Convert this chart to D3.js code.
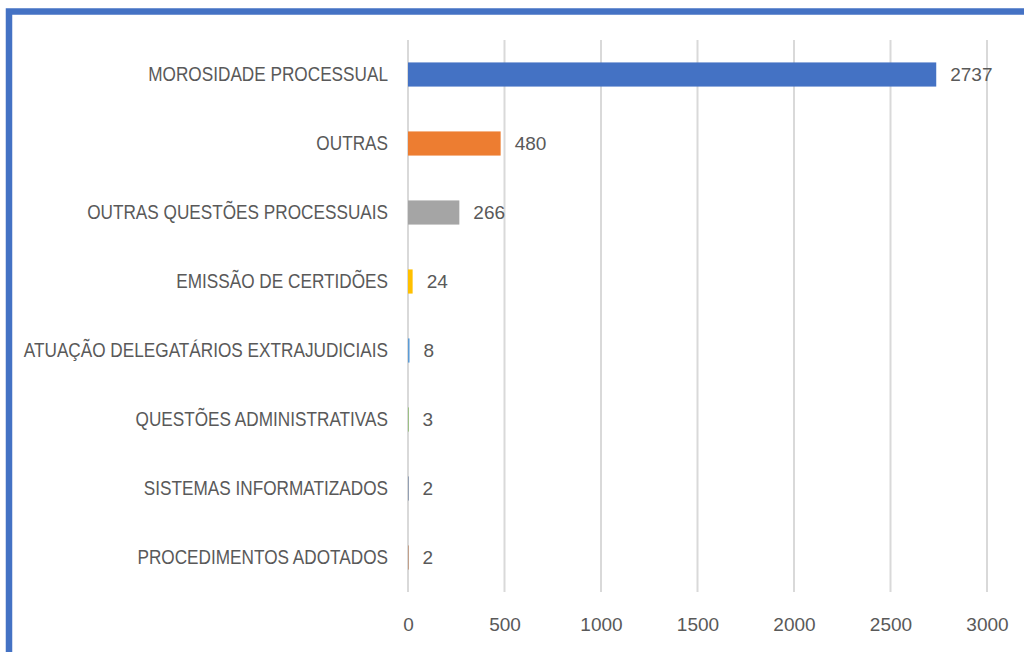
<!DOCTYPE html>
<html>
<head>
<meta charset="utf-8">
<script src="https://cdn.jsdelivr.net/npm/d3@7"></script>
<style>
    html, body { margin: 0; padding: 0; background: #ffffff; }
    svg { display: block; }
    text { font-family: 'Liberation Sans Narrow', 'Liberation Sans', sans-serif; fill: #595959; }
</style>
</head>
<body>
<svg></svg>
<script>
const CATEGORIES = [
    'MOROSIDADE PROCESSUAL',
    'OUTRAS',
    'OUTRAS QUESTÕES PROCESSUAIS',
    'EMISSÃO DE CERTIDÕES',
    'ATUAÇÃO DELEGATÁRIOS EXTRAJUDICIAIS',
    'QUESTÕES ADMINISTRATIVAS',
    'SISTEMAS INFORMATIZADOS',
    'PROCEDIMENTOS ADOTADOS'
];
const VALUES = [2737, 480, 266, 24, 8, 3, 2, 2];
const TICKS = [0, 500, 1000, 1500, 2000, 2500, 3000];

const COLORS = [
    '#4472c4',
    '#ed7d31',
    '#a5a5a5',
    '#ffc000',
    '#5b9bd5',
    '#70ad47',
    '#264478',
    '#9e480e'
];

const WIDTH = 1024;
const HEIGHT = 652;
const PLOT = { left: 408, right: 987, top: 40, bottom: 592 };
const SQUEEZE = 0.86; // narrow the category labels a bit

const data = CATEGORIES.map((c, i) => ({ id: i, category: c, value: VALUES[i] }));

const xScale = d3.scaleLinear().domain([0, 3000]).range([PLOT.left, PLOT.right]);
const yScale = d3.scaleBand().domain(CATEGORIES).range([PLOT.top, PLOT.bottom]).paddingInner(0.65).paddingOuter(0.325);

const svg = d3.select('svg')
    .attr('width', WIDTH)
    .attr('height', HEIGHT);

// frame
svg.append('rect')
    .attr('x', 9)
    .attr('y', 11.5)
    .attr('width', WIDTH + 20)
    .attr('height', HEIGHT + 20)
    .attr('fill', 'none')
    .attr('stroke', '#4472c4')
    .attr('stroke-width', 6.5);

// gridlines
svg.append('g')
    .selectAll('line')
    .data(TICKS)
    .enter()
    .append('line')
    .attr('x1', d => xScale(d))
    .attr('x2', d => xScale(d))
    .attr('y1', PLOT.top)
    .attr('y2', PLOT.bottom)
    .attr('stroke', '#d9d9d9')
    .attr('stroke-width', 2);

// x axis labels
const xAxis = svg.append('g')
    .attr('transform', `translate(0, ${PLOT.bottom})`)
    .call(d3.axisBottom(xScale).tickValues(TICKS).tickFormat(d3.format('d')).tickSize(0).tickPadding(26));
xAxis.select('.domain').remove();
xAxis.selectAll('text')
    .attr('font-size', 19)
    .attr('font-family', null)
    .attr('fill', '#595959');

// y axis labels
const yAxis = svg.append('g')
    .attr('transform', `translate(${PLOT.left}, 0)`)
    .call(d3.axisLeft(yScale).tickSize(0).tickPadding(20 / SQUEEZE));
yAxis.select('.domain').remove();
yAxis.selectAll('text')
    .attr('font-size', 20)
    .attr('font-family', null)
    .attr('fill', '#595959')
    .attr('transform', `scale(${SQUEEZE}, 1)`);

// bars
svg.selectAll('.bar')
    .data(data)
    .enter()
    .append('rect')
    .classed('bar', true)
    .attr('x', xScale(0))
    .attr('y', d => yScale(d.category))
    .attr('width', d => xScale(d.value) - xScale(0))
    .attr('height', yScale.bandwidth())
    .attr('fill', d => COLORS[d.id]);

// value labels
svg.selectAll('.label')
    .data(data)
    .enter()
    .append('text')
    .classed('label', true)
    .text(d => d.value)
    .attr('x', d => xScale(d.value) + 14)
    .attr('y', d => yScale(d.category) + yScale.bandwidth() / 2)
    .attr('dy', '0.35em')
    .attr('font-size', 19);
</script>
</body>
</html>
